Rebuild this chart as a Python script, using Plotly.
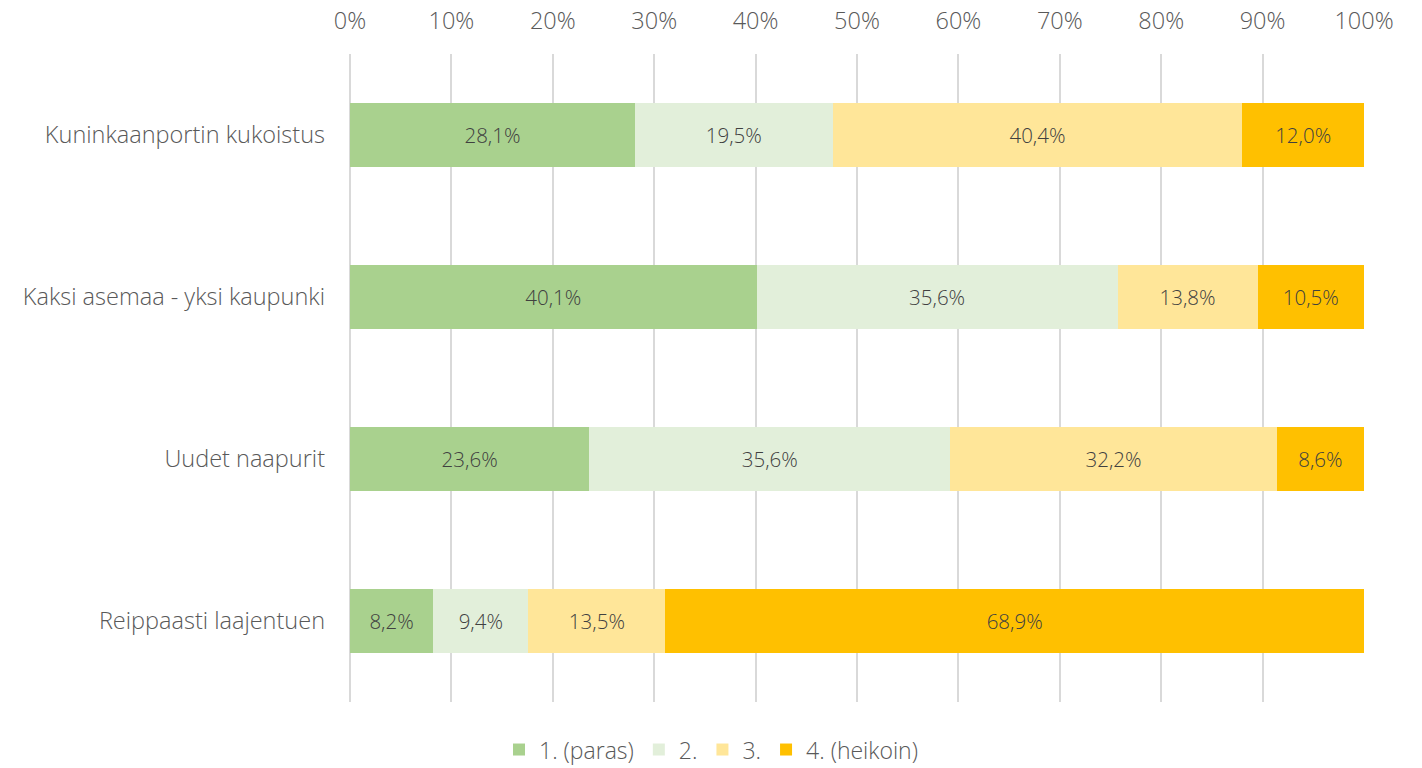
import plotly.graph_objects as go

categories = ["Kuninkaanportin kukoistus", "Kaksi asemaa - yksi kaupunki",
              "Uudet naapurit", "Reippaasti laajentuen"]
series_names = ["1. (paras)", "2.", "3.", "4. (heikoin)"]
paras = [28.1, 40.1, 23.6, 8.2]
toinen = [19.5, 35.6, 35.6, 9.4]
kolmas = [40.4, 13.8, 32.2, 13.5]
heikoin = [12.0, 10.5, 8.6, 68.9]
colors = ["#A9D18E", "#E2EFDA", "#FFE699", "#FFC000"]

font_name = "Open Sans"

fig = go.Figure()
for name, vals, col in zip(series_names, [paras, toinen, kolmas, heikoin], colors):
    fig.add_trace(go.Bar(
        y=categories, x=vals, name=name, orientation="h",
        marker=dict(color=col, line=dict(width=0)),
        text=[f"{v:.1f}%".replace(".", ",") for v in vals],
        textposition="inside", insidetextanchor="middle",
        textfont=dict(family=font_name, size=20.5, color="#404040", weight=300),
        hoverinfo="skip", width=0.4,
    ))

fig.update_layout(
    barmode="stack",
    width=1422, height=768,
    margin=dict(l=350, r=58, t=54, b=66),
    plot_bgcolor="white", paper_bgcolor="white",
    font=dict(family=font_name, color="#595959", size=23.5, weight=300),
    uniformtext=dict(mode="show", minsize=10),
    xaxis=dict(
        side="top", range=[0, 100], dtick=10, ticksuffix="%",
        showgrid=True, gridcolor="#D9D9D9", gridwidth=2,
        zeroline=True, zerolinecolor="#D9D9D9", zerolinewidth=2,
        showline=False, ticks="", automargin=False,
        tickfont=dict(size=23.5, color="#595959", weight=300),
        ticklabelstandoff=19,
    ),
    yaxis=dict(
        autorange="reversed", showgrid=False, zeroline=False, ticks="",
        automargin=False,
        tickfont=dict(size=23.5, color="#595959", weight=300),
        ticklabelstandoff=24,
    ),
    legend=dict(
        orientation="h", xref="container", x=0.5, xanchor="center",
        yref="container", y=0.024, yanchor="middle",
        font=dict(size=23, color="#595959", weight=300), traceorder="normal",
        itemwidth=30,
    ),
    showlegend=True,
)

# drop the default 8px body margin so the figure fills the window exactly
fig.write_html("out.html", config={"displayModeBar": False},
               post_script="document.body.style.margin='0';")
